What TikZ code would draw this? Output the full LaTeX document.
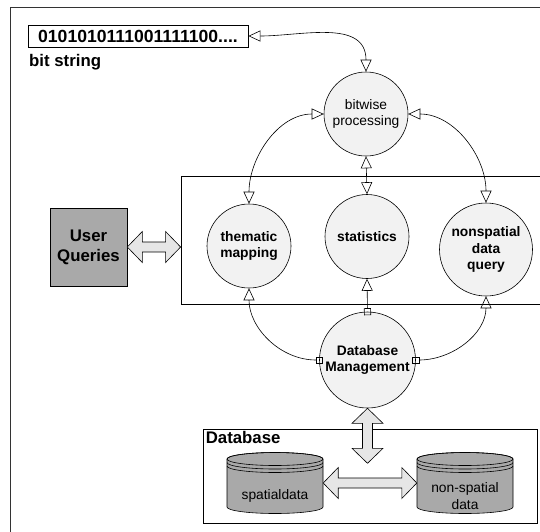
\documentclass[tikz,border=0pt]{standalone}
\usepackage{fontspec}
\setmainfont{Liberation Sans}
\usetikzlibrary{arrows.meta,calc}
\definecolor{procgray}{HTML}{F2F2F2}
\definecolor{diskgray}{HTML}{A9A9A9}
\definecolor{blockgray}{HTML}{E6E6E6}
\newcommand\procfont{\fontsize{13.8pt}{16.7pt}\selectfont}
\newcommand\headfont{\fontsize{16.8pt}{20pt}\selectfont\bfseries}
% fat two-headed arrow from #1 to #2
\newcommand\dblarrow[2]{%
 \filldraw[fill=blockgray,line width=0.6pt] (#1)
  -- ($(#1)!15pt!(#2)!15.5pt!90:(#2)$) -- ($(#1)!15pt!(#2)!5pt!90:(#2)$)
  -- ($(#2)!15pt!(#1)!5pt!-90:(#1)$) -- ($(#2)!15pt!(#1)!15.5pt!-90:(#1)$)
  -- (#2)
  -- ($(#2)!15pt!(#1)!15.5pt!90:(#1)$) -- ($(#2)!15pt!(#1)!5pt!90:(#1)$)
  -- ($(#1)!15pt!(#2)!5pt!-90:(#2)$) -- ($(#1)!15pt!(#2)!15.5pt!-90:(#2)$)
  -- cycle;}
% disk stack: name, x, text
\newcommand\disk[3]{%
 \node[minimum width=96pt,minimum height=62pt,inner sep=0pt] (#1) at (#2,-483) {};
 \filldraw[fill=diskgray,line width=0.6pt] (#2-48,-459) -- (#2-48,-507)
   arc[start angle=180,end angle=360,x radius=48,y radius=6.5] -- (#2+48,-459)
   arc[start angle=0,end angle=180,x radius=48,y radius=6.5] -- cycle;
 \draw[line width=0.6pt] (#2,-459) ellipse[x radius=48,y radius=6.5];
 \foreach \d in {3.5,7} \draw[line width=0.6pt] (#2-48,-459-\d) arc[start angle=180,end angle=360,x radius=48,y radius=6.5];
 \node[align=center,font=\procfont] (#1txt) at (#2,-496) {#3};}

\begin{document}
\begin{tikzpicture}[x=1pt,y=1pt,
  proc/.style={circle,draw,line width=0.6pt,fill=procgray,minimum size=84pt,inner sep=0pt,align=center,font=\procfont\bfseries},
  link/.style={line width=0.6pt,{Triangle[open,length=12pt,width=11pt]}-{Triangle[open,length=12pt,width=11pt]}},
  feed/.style={line width=0.6pt,{Square[open,length=7pt,width=7pt]}-{Triangle[open,length=12pt,width=11pt]},shorten <=-3.5pt}]
 \useasboundingbox (0,0) rectangle (540,-531);
 \draw[line width=0.8pt,black!80] (10,-540) |- (550,-7);
 %
 \node[draw,line width=0.8pt,minimum width=220pt,minimum height=22pt,inner sep=0pt,font=\fontsize{17.6pt}{20pt}\selectfont\bfseries] (bits) at (138,-36) {0101010111001111100....};
 \node[anchor=west,inner sep=0pt,font=\headfont] (bitlabel) at (29,-62) {bit string};
 %
 \node[draw,line width=0.8pt,minimum width=369pt,minimum height=128pt] (funcs) at (365.5,-240) {};
 \node[proc,font=\procfont] (bitwise) at (366,-114) {bitwise\\processing};
 \node[proc] (thematic) at (249,-246) {thematic\\mapping};
 \node[proc] (stats) at (367,-236.5) {statistics};
 \node[proc,minimum size=93pt] (query) at (486,-249.5) {nonspatial\\data\\query};
 \node[proc,minimum size=96pt] (dbm) at (367.5,-360) {Database\\Management};
 %
 \node[draw,line width=0.6pt,fill=diskgray,minimum width=77pt,minimum height=78pt,align=center,font=\headfont] (uq) at (88.5,-247) {User\\Queries};
 \coordinate (uqout) at (uq.east);
 \coordinate (funcsin) at (uq.east -| funcs.west);
 \dblarrow{uqout}{funcsin}
 %
 \draw[link] (bits.east) to[out=0,in=90,looseness=1.1] (bitwise.north);
 \draw[link] (bitwise.west) to[out=180,in=90] (thematic.north);
 \draw[link] (bitwise.east) to[out=0,in=90] (query.north);
 \draw[link] (bitwise.south) -- (stats.north);
 \draw[feed] (dbm.north) -- (stats.south);
 \draw[feed] (dbm.west) to[out=180,in=-90] (thematic.south);
 \draw[feed] (dbm.east) to[out=0,in=-90] (query.south);
 %
 \node[draw,line width=0.8pt,minimum width=334pt,minimum height=94pt] (dbbox) at (370,-476) {};
 \node[anchor=north west,inner sep=3pt,font=\headfont] (dblabel) at (dbbox.north west) {Database};
 \coordinate (dbtop) at (dbm.south);
 \coordinate (dbin) at ($(dbm.south)+(0,-55)$);
 \dblarrow{dbtop}{dbin}
 %
 \disk{spatial}{275}{spatialdata}
 \disk{nonspat}{465}{non-spatial\\data}
 \dblarrow{spatial.east}{nonspat.west}
\end{tikzpicture}
\end{document}
